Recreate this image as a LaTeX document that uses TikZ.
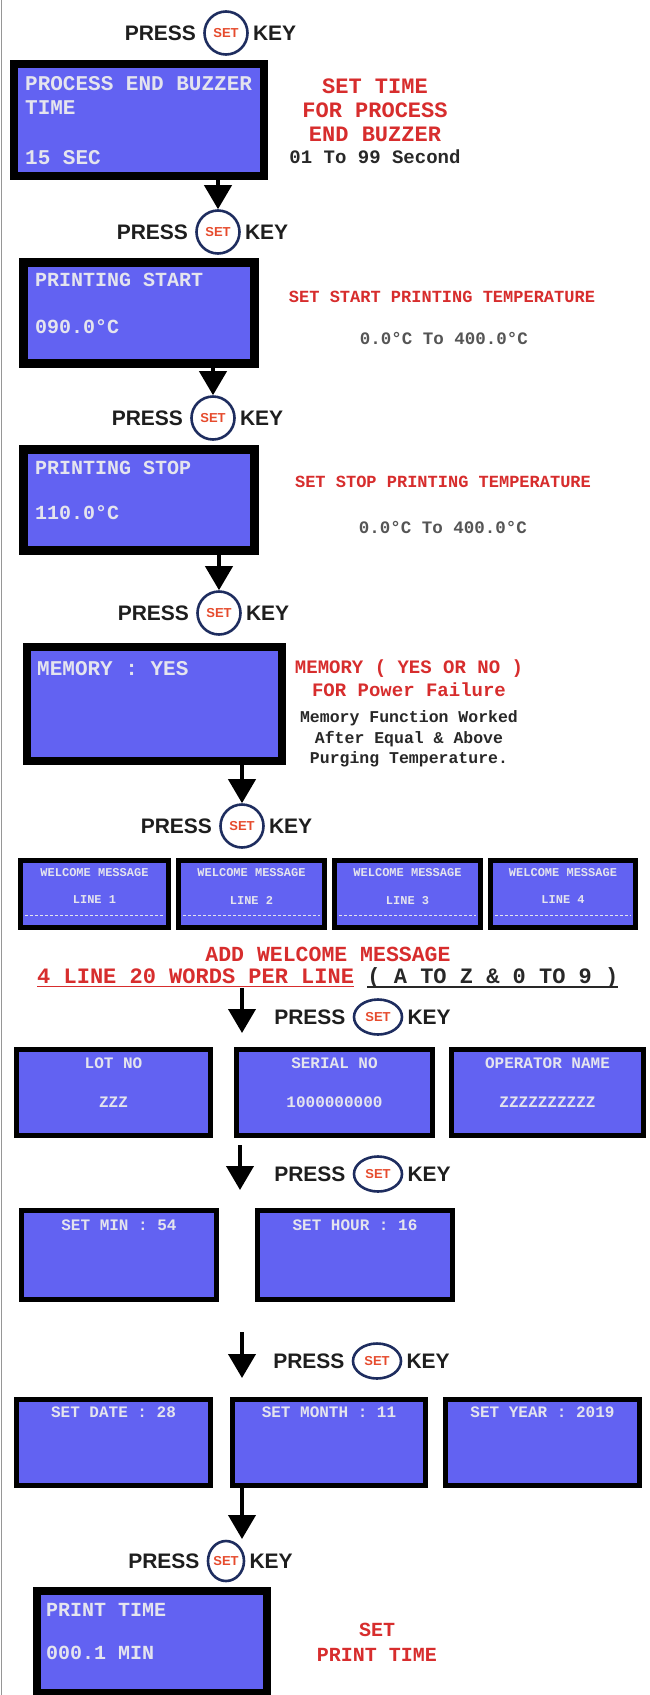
\documentclass[tikz,border=0pt]{standalone}
\usepackage{fontspec}
\setmainfont{Liberation Serif}
\setsansfont{Liberation Sans}
\setmonofont{Liberation Mono}
\usetikzlibrary{arrows.meta,calc,shapes.geometric}
\definecolor{lcdblue}{RGB}{98,98,242}
\definecolor{lcdtext}{RGB}{228,228,238}
\definecolor{redtxt}{RGB}{215,45,45}
\definecolor{setred}{RGB}{230,75,45}
\definecolor{navy}{RGB}{30,45,95}
\definecolor{keyblack}{RGB}{30,30,30}
\definecolor{darktxt}{RGB}{40,40,40}
\definecolor{graytxt}{RGB}{85,85,85}
\definecolor{edgegray}{RGB}{150,150,150}
\newcommand\presskey[4][keyround]{%
  \node[setkey,#1] (#2) at (#3,#4) {SET};
  \node[presst, anchor=east] (#2p) at ([xshift=-7pt]#2.west) {PRESS};
  \node[presst, anchor=west] (#2k) at ([xshift=4pt]#2.east) {KEY};
}
\newcommand\lcdbox[6]{%
  \node[lcdframe, line width=#6pt, minimum width={#4-#2-#6}, minimum height={#5-#3-#6}] (#1) at ({(#2+#4)/2},{(#3+#5)/2}) {};
}
\newcommand\welcomebox[4]{%
  \lcdbox{#1}{#2}{858}{#3}{930}{5}
  \node[lcdt=12] (#1t) at ({(#2+#3)/2},872) {WELCOME MESSAGE};
  \node[lcdt=12] (#1l) at ({(#2+#3)/2},900) {LINE #4};
  \draw[lcddash] ({#2+7},915) -- ({#3-7},915);
}
\begin{document}
\begin{tikzpicture}[x=1pt,y=-1pt,
  lcdframe/.style={draw=black, fill=lcdblue, inner sep=0, outer sep=0},
  setkey/.style={draw=navy, line width=2.6pt, fill=white, inner sep=0, text=setred, font=\sffamily\bfseries\fontsize{13}{13}\selectfont},
  keyround/.style={circle, minimum size=43pt},
  keyoval/.style={ellipse, minimum width=48pt, minimum height=35pt},
  keytall/.style={ellipse, minimum width=36pt, minimum height=40pt},
  presst/.style={inner sep=0, text depth=0pt, text=keyblack, font=\sffamily\bfseries\fontsize{21}{21}\selectfont},
  mono/.style={inner sep=0, text depth=0pt, font=\ttfamily\bfseries\fontsize{#1}{#1}\selectfont},
  lcdt/.style={mono=#1, text=lcdtext},
  redt/.style={mono=#1, text=redtxt},
  darkt/.style={mono=#1, text=darktxt},
  grayt/.style={mono=#1, text=graytxt},
  bigarrow/.style={line width=4pt, -{Triangle[width=27pt,length=24pt]}},
  lcddash/.style={draw=lcdtext, line width=1pt, dash pattern=on 3pt off 2pt},
  uline/.style={line width=1.3pt},
]
\fill[white] (0,0) rectangle (649,1695);
\useasboundingbox (0,0) rectangle (649,1695);
\draw[edgegray, line width=1.2pt] (1.5,0) -- (1.5,1695);

% ---- section 1
\presskey{k1}{226}{33}
\lcdbox{b1}{10}{60}{268}{180}{8}
\node[lcdt=21, anchor=west] (b1a) at (25,83) {PROCESS END BUZZER};
\node[lcdt=21, anchor=west] (b1b) at (25,108) {TIME};
\node[lcdt=21, anchor=west] (b1c) at (25,157) {15 SEC};
\node[redt=22] (n1a) at (375,86) {SET TIME};
\node[redt=22] (n1b) at (375,110) {FOR PROCESS};
\node[redt=22] (n1c) at (375,134) {END BUZZER};
\node[darkt=19] (n1d) at (375,157) {01 To 99 Second};

% ---- section 2
\presskey{k2}{218}{232}
\lcdbox{b2}{19}{258}{259}{368}{9}
\node[lcdt=20, anchor=west] (b2a) at (35,280) {PRINTING START};
\node[lcdt=20, anchor=west] (b2b) at (35,327) {090.0°C};
\node[redt=17] (n2a) at (442,297) {SET START PRINTING TEMPERATURE};
\node[grayt=17.5] (n2b) at (444,338) {0.0°C To 400.0°C};

% ---- section 3
\presskey{k3}{213}{418}
\lcdbox{b3}{19}{445}{259}{555}{9}
\node[lcdt=20, anchor=west] (b3a) at (35,468) {PRINTING STOP};
\node[lcdt=20, anchor=west] (b3b) at (35,513) {110.0°C};
\node[redt=17] (n3a) at (443,482) {SET STOP PRINTING TEMPERATURE};
\node[grayt=17.5] (n3b) at (443,527) {0.0°C To 400.0°C};

% ---- section 4
\presskey{k4}{219}{613}
\lcdbox{b4}{23}{643}{286}{765}{8}
\node[lcdt=21, anchor=west] (b4a) at (37,668) {MEMORY : YES};
\node[redt=19] (n4a) at (409,667) {MEMORY ( YES OR NO )};
\node[redt=19] (n4b) at (409,690) {FOR Power Failure};
\node[darkt=16.5] (n4c) at (409,717) {Memory Function Worked};
\node[darkt=16.5] (n4d) at (409,737) {After Equal \& Above};
\node[darkt=16.5] (n4e) at (409,758) {Purging Temperature.};

% ---- section 5
\presskey{k5}{242}{826}
\welcomebox{w1}{18}{171}{1}
\welcomebox{w2}{176}{327}{2}
\welcomebox{w3}{332}{483}{3}
\welcomebox{w4}{488}{638}{4}
\node[redt=21.5] (n5a) at (328,954) {ADD WELCOME MESSAGE};
\node[redt=22, anchor=west] (n5b) at (37,976) {4 LINE 20 WORDS PER LINE};
\node[darkt=22, anchor=west] (n5c) at ([xshift=13pt]n5b.east) {( A TO Z \& 0 TO 9 )};
\draw[uline, redtxt] ($(n5b.base west)+(0,3)$) -- ($(n5b.base east)+(0,3)$);
\draw[uline, darktxt] ($(n5c.base west)+(0,3)$) -- ($(n5c.base east)+(0,3)$);

% ---- section 6
\coordinate (a6s) at (242,988);
\coordinate (a6e) at (242,1033);
\presskey[keyoval]{k6}{378}{1017}
\lcdbox{r6a}{14}{1047}{213}{1138}{5}
\lcdbox{r6b}{234}{1047}{435}{1138}{5}
\lcdbox{r6c}{449}{1047}{646}{1138}{5}
\node[lcdt=16] (r6a1) at (r6a |- 0,1063) {LOT NO};
\node[lcdt=16] (r6a2) at (r6a |- 0,1102) {ZZZ};
\node[lcdt=16] (r6b1) at (r6b |- 0,1063) {SERIAL NO};
\node[lcdt=16] (r6b2) at (r6b |- 0,1102) {1000000000};
\node[lcdt=16] (r6c1) at (r6c |- 0,1063) {OPERATOR NAME};
\node[lcdt=16] (r6c2) at (r6c |- 0,1102) {ZZZZZZZZZZ};

% ---- section 7
\coordinate (a7s) at (240,1145);
\coordinate (a7e) at (240,1190);
\presskey[keyoval]{k7}{378}{1174}
\lcdbox{r7a}{19}{1208}{219}{1302}{5}
\lcdbox{r7b}{255}{1208}{455}{1302}{5}
\node[lcdt=16] (r7a1) at (r7a |- 0,1225) {SET MIN : 54};
\node[lcdt=16] (r7b1) at (r7b |- 0,1225) {SET HOUR : 16};

% ---- section 8
\coordinate (a8s) at (242,1332);
\coordinate (a8e) at (242,1378);
\presskey[keyoval]{k8}{377}{1361}
\lcdbox{r8a}{14}{1397}{213}{1488}{5}
\lcdbox{r8b}{230}{1397}{428}{1488}{5}
\lcdbox{r8c}{443}{1397}{642}{1488}{5}
\node[lcdt=16] (r8a1) at (r8a |- 0,1412) {SET DATE : 28};
\node[lcdt=16] (r8b1) at (r8b |- 0,1412) {SET MONTH : 11};
\node[lcdt=16] (r8c1) at (r8c |- 0,1412) {SET YEAR : 2019};

% ---- section 9
\coordinate (a9e) at (242,1539);
\presskey[keytall]{k9}{226}{1561}
\lcdbox{b9}{33}{1587}{271}{1697}{8}
\node[lcdt=20, anchor=west] (b9a) at (46,1610) {PRINT TIME};
\node[lcdt=20, anchor=west] (b9b) at (46,1653) {000.1 MIN};
\node[redt=20] (n9a) at (377,1630) {SET};
\node[redt=20] (n9b) at (377,1655) {PRINT TIME};

% ---- connectors
\draw[bigarrow] (b1.south -| k2.north) -- (k2.north);
\draw[bigarrow] (b2.south -| k3.north) -- (k3.north);
\draw[bigarrow] (b3.south -| k4.north) -- (k4.north);
\draw[bigarrow] (b4.south -| k5.north) -- (k5.north);
\draw[bigarrow] (a6s) -- (a6e);
\draw[bigarrow] (a7s) -- (a7e);
\draw[bigarrow] (a8s) -- (a8e);
\draw[bigarrow] (r8b.south -| a9e) -- (a9e);
\end{tikzpicture}
\end{document}
